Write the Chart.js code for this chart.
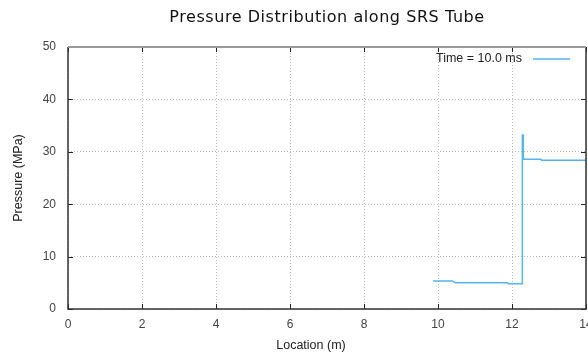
<!DOCTYPE html>
<html>
<head>
<meta charset="utf-8">
<script src="https://cdn.jsdelivr.net/npm/chart.js@4.4.1/dist/chart.umd.min.js"></script>
<style>
html,body{margin:0;padding:0;background:#fff;}
#wrap{width:588px;height:354px;position:relative;}
</style>
</head>
<body>
<div id="wrap"><canvas id="c" width="588" height="354"></canvas></div>
<script>
const chartTitle = "Pressure Distribution along SRS Tube";
const seriesLabel = "Time = 10.0 ms";
const xTitle = "Location (m)";
const yTitle = "Pressure (MPa)";
const xTicks = [0, 2, 4, 6, 8, 10, 12, 14];
const yTicks = [0, 10, 20, 30, 40, 50];
const locations = [9.87, 10.39, 10.45, 10.48, 11.88, 11.9, 12.28, 12.28, 12.3, 12.3, 12.31, 12.31, 12.78, 12.8, 14.0];
const pressures = [5.35, 5.35, 5.1, 5.0, 5.0, 4.8, 4.8, 33.2, 33.2, 31.4, 31.4, 28.6, 28.6, 28.4, 28.4];

const lineColor = '#56b4e9';
const tickFont = {family: "'Liberation Sans', Arial, sans-serif", size: 12};

const framePlugin = {
  id: 'frame',
  afterDatasetsDraw(chart) {
    const ctx = chart.ctx, a = chart.chartArea;
    const xs = chart.scales.x, ys = chart.scales.y;
    ctx.save();
    // title, centred over the plot area
    ctx.font = "16px 'DejaVu Sans', sans-serif";
    ctx.fillStyle = '#111';
    ctx.textAlign = 'left';
    ctx.textBaseline = 'middle';
    const w0 = ctx.measureText(chartTitle).width;
    const target = 315;
    const sp = Math.max(0, (target - w0) / (chartTitle.length - 1));
    if ('letterSpacing' in ctx) ctx.letterSpacing = sp.toFixed(2) + 'px';
    const w1 = ctx.measureText(chartTitle).width;
    ctx.fillText(chartTitle, (a.left + a.right) / 2 - w1 / 2, 18);
    if ('letterSpacing' in ctx) ctx.letterSpacing = '0px';
    // x axis title
    ctx.font = "12.5px 'Liberation Sans', Arial, sans-serif";
    ctx.fillStyle = '#222';
    ctx.textAlign = 'center';
    ctx.fillText(xTitle, 311, 346);
    // inner ticks
    ctx.strokeStyle = '#222';
    ctx.lineWidth = 1;
    ctx.beginPath();
    xTicks.forEach(v => {
      const px = Math.round(xs.getPixelForValue(v)) + 0.5;
      ctx.moveTo(px, a.bottom); ctx.lineTo(px, a.bottom - 5);
      ctx.moveTo(px, a.top); ctx.lineTo(px, a.top + 5);
    });
    yTicks.forEach(v => {
      const py = Math.round(ys.getPixelForValue(v)) + 0.5;
      ctx.moveTo(a.left, py); ctx.lineTo(a.left + 5, py);
      ctx.moveTo(a.right, py); ctx.lineTo(a.right - 5, py);
    });
    ctx.stroke();
    // frame
    ctx.strokeStyle = '#333';
    ctx.lineWidth = 1.5;
    ctx.beginPath();
    ctx.moveTo(a.left, a.top); ctx.lineTo(a.left, a.bottom); ctx.lineTo(a.right, a.bottom); ctx.lineTo(a.right, a.top);
    ctx.stroke();
    ctx.strokeStyle = '#999';
    ctx.lineWidth = 2;
    ctx.beginPath();
    ctx.moveTo(a.left, a.top); ctx.lineTo(a.right, a.top);
    ctx.stroke();
    // legend
    const ly = a.top + 12;
    ctx.font = "12.5px 'Liberation Sans', Arial, sans-serif";
    ctx.fillStyle = '#222';
    ctx.textAlign = 'right';
    ctx.textBaseline = 'middle';
    ctx.fillText(chart.data.datasets[0].label, a.right - 64, ly);
    ctx.strokeStyle = lineColor;
    ctx.lineWidth = 1.5;
    ctx.beginPath();
    ctx.moveTo(a.right - 53, ly); ctx.lineTo(a.right - 16, ly);
    ctx.stroke();
    ctx.restore();
  }
};

new Chart(document.getElementById('c'), {
  type: 'scatter',
  data: {
    datasets: [{
      label: seriesLabel,
      data: locations.map((x, i) => ({x: x, y: pressures[i]})),
      showLine: true,
      borderColor: lineColor,
      backgroundColor: lineColor,
      borderWidth: 1.5,
      pointRadius: 0,
      tension: 0
    }]
  },
  options: {
    responsive: false,
    animation: false,
    layout: {padding: {left: 0, right: 2, top: 47, bottom: 0}},
    plugins: {
      legend: {display: false},
      tooltip: {enabled: false},
      title: {display: false}
    },
    scales: {
      x: {
        type: 'linear',
        min: 0, max: 14,
        afterBuildTicks: s => { s.ticks = xTicks.map(v => ({value: v})); },
        afterFit: s => { s.height = 45; s.paddingLeft = 0; s.paddingRight = 0; },
        ticks: {color: '#444', font: tickFont, padding: 8, maxRotation: 0, autoSkip: false},
        grid: {color: '#bbb', lineWidth: 1, drawTicks: false},
        border: {display: false, dash: [1, 2]},
        title: {display: false}
      },
      y: {
        type: 'linear',
        min: 0, max: 50,
        afterBuildTicks: s => { s.ticks = yTicks.map(v => ({value: v})); },
        afterFit: s => { s.width = 68; s.paddingTop = 0; s.paddingBottom = 0; },
        ticks: {color: '#444', font: tickFont, padding: 12},
        grid: {color: '#bbb', lineWidth: 1, drawTicks: false},
        border: {display: false, dash: [1, 2]},
        title: {display: true, text: yTitle, color: '#222', font: {family: "'Liberation Sans', Arial, sans-serif", size: 12.5}, padding: {top: 11, bottom: 4}}
      }
    }
  },
  plugins: [framePlugin]
});
</script>
</body>
</html>
